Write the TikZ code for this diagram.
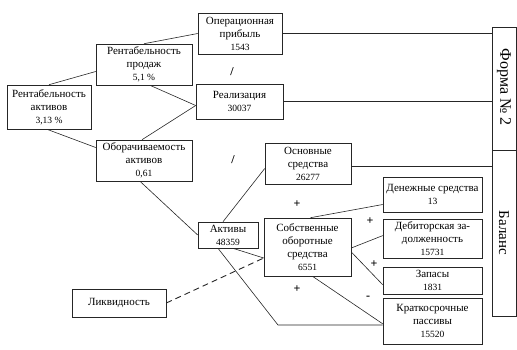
\documentclass[tikz,border=0pt]{standalone}
\usepackage{fontspec}
\setmainfont{Liberation Serif}
\usepackage{tikz}
\usetikzlibrary{positioning, calc}
\tikzset{
  box/.style={rectangle, draw=black!85, line width=0.6pt, align=center,
              inner sep=1pt, font=\fontsize{11}{13}\selectfont},
  sidebox/.style={box, minimum width=24pt, font=\fontsize{15}{17}\selectfont},
  link/.style={draw=black!85, line width=0.6pt},
  dashlink/.style={link, line width=0.9pt, dash pattern=on 6pt off 4pt},
  opsign/.style={font=\fontsize{12}{12}\selectfont\bfseries, inner sep=0pt},
}
\newcommand{\fig}[1]{{\fontsize{9.5}{11}\selectfont #1}}

\begin{document}
\begin{tikzpicture}[x=1pt, y=-1pt]
  \useasboundingbox (0,0) rectangle (517,349);

  %% Left part: profitability tree
  \node[box, minimum width=84pt, minimum height=44pt] (assetret) at (49,107)
       {Рентабельность\\активов\\\fig{3,13 \%}};
  \node[box, minimum width=96pt, minimum height=41pt] (salesret) at (144,64.5)
       {Рентабельность\\продаж\\\fig{5,1 \%}};
  \node[box, minimum width=96pt, minimum height=41pt] (turnover) at (144,160.5)
       {Оборачиваемость\\активов\\\fig{0,61}};
  \node[box, minimum width=84pt, minimum height=41pt] (opprofit) at (240,33.5)
       {Операционная\\прибыль\\\fig{1543}};
  \node[box, minimum width=87pt, minimum height=35pt] (revenue) at (239.5,101.5)
       {Реализация\\\fig{30037}};

  \draw[link] (assetret.north) -- ([yshift=-7pt]salesret.west);
  \draw[link] ([xshift=-2pt]assetret.south) -- ([yshift=13pt]turnover.west);
  \draw[link] (salesret.north) -- (opprofit.west);
  \draw[link] ([xshift=6pt]salesret.south) -- ([yshift=-4pt]revenue.west);
  \draw[link] ([xshift=-2pt]turnover.north) -- ([yshift=-4pt]revenue.west);

  \node[opsign] (div1) at (232,72) {/};
  \node[opsign] (div2) at (233,160) {/};

  %% Balance part
  \node[box, minimum width=60pt, minimum height=26pt] (assets) at (228,235)
       {Активы\\\fig{48359}};
  \node[box, minimum width=86pt, minimum height=41pt] (fixed) at (308,163.5)
       {Основные\\средства\\\fig{26277}};
  \node[box, minimum width=87pt, minimum height=58pt] (workcap) at (307.5,247)
       {Собственные\\оборотные\\средства\\\fig{6551}};
  \node[box, minimum width=94pt, minimum height=28pt] (liquid) at (119,303)
       {Ликвидность};

  \node[box, minimum width=99pt, minimum height=35pt] (cash) at (432.5,194.5)
       {Денежные средства\\\fig{13}};
  \node[box, minimum width=99pt, minimum height=39pt, below=7pt of cash] (receiv)
       {Дебиторская за-\\долженность\\\fig{15731}};
  \node[box, minimum width=99pt, minimum height=27pt, below=8pt of receiv] (stock)
       {Запасы\\\fig{1831}};
  \node[box, minimum width=99pt, minimum height=46pt, below=3pt of stock] (shortliab)
       {Краткосрочные\\пассивы\\\fig{15520}};

  \draw[link] ([xshift=-4pt]turnover.south) -- (assets.west);
  \draw[link] ([xshift=-5pt]assets.north) -- ([yshift=-5pt]fixed.west);
  \draw[link] ([xshift=5pt]assets.south) -- ([yshift=-11pt]workcap.west);
  \coordinate (kink) at (278,325);
  \draw[link] ([xshift=-10pt]assets.south) -- (kink) -- (kink -| shortliab.west);
  \draw[dashlink] (liquid.east) -- ([yshift=-11pt]workcap.west);

  \draw[link] ([xshift=3pt]workcap.north) -- ([yshift=-10pt]cash.west);
  \draw[link] ([yshift=-1pt]workcap.east) -- ([yshift=3.5pt]receiv.west);
  \draw[link] ([yshift=-5pt]workcap.east) -- ([yshift=-4pt]stock.west);
  \draw[link] ([xshift=5pt]workcap.south) -- ([yshift=-3pt]shortliab.west);

  \node[opsign] (plus1) at (297,204) {+};
  \node[opsign] (plus2) at (297,289) {+};
  \node[opsign] (plus3) at (370,221) {+};
  \node[opsign] (plus4) at (374,264) {+};
  \node[opsign] (minus1) at (368,298) {-};

  %% Source forms
  \node[sidebox, minimum height=123pt] (form2) at (504,88.5) {};
  \node[sidebox, minimum height=166pt, below=0pt of form2] (balance) {};
  \node[rotate=-90, font=\fontsize{16}{18}\selectfont] (form2txt) at ($(form2)+(0,-1.5)$) {Форма № 2};
  \node[rotate=-90, font=\fontsize{15}{17}\selectfont] (balancetxt) at (504,233) {Баланс};

  \draw[link] (opprofit.east) -- (opprofit.east -| form2.west);
  \draw[link] (revenue.east) -- (revenue.east -| form2.west);
  \draw[link] ([yshift=-3pt]fixed.east) -- ([yshift=-3pt]fixed.east -| balance.west);

\end{tikzpicture}
\end{document}
